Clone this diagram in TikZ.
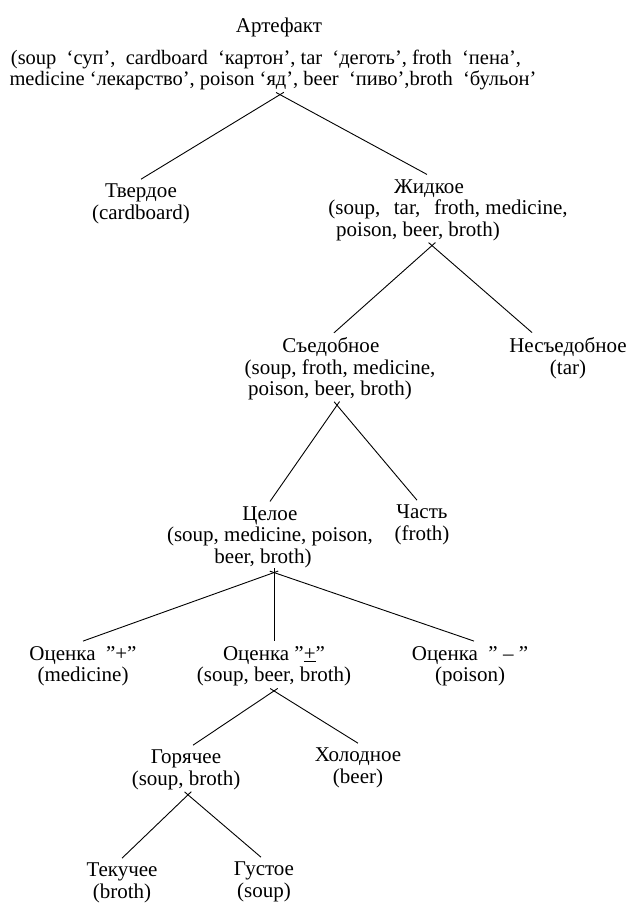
\documentclass[tikz,border=0pt]{standalone}
\usepackage{fontspec}
\setmainfont{Liberation Serif}
\usetikzlibrary{positioning}

\begin{document}
\begin{tikzpicture}
    [x=1pt, y=-1pt, line width=0.9pt,
     cat/.style={align=center, inner xsep=1pt, inner ysep=4.5pt, font=\fontsize{21}{21.5}\selectfont},
     down/.style={shorten <=-4.5pt}]
    \useasboundingbox (0,0) rectangle (629,903);
    \node[cat] (art) at (279,27) {Артефакт};
    \node[cat, font=\fontsize{20.5}{20.5}\selectfont] (artlist) at (266,70) {(soup\ \ ‘суп’,\ \ cardboard\ \ ‘картон’, tar\ \ ‘деготь’, froth\ \ ‘пена’,\\\hspace*{14pt}medicine ‘лекарство’, poison ‘яд’, beer\ \ ‘пиво’,broth\ \ ‘бульон’};
    \node[cat] (tv) at (141,204) {Твердое\\(cardboard)};
    \node[cat] (zh) at (448,210) {Жидкое\hspace*{38pt}\\(soup,\hspace{0.65em}tar,\hspace{0.65em}froth, medicine,\\poison, beer, broth)\hspace*{60pt}};
    \node[cat] (sed) at (340,369) {Съедобное\hspace*{18pt}\\(soup, froth, medicine,\\poison, beer, broth)\hspace*{20pt}};
    \node[cat] (nes) at (568,358) {Несъедобное\\(tar)};
    \node[cat] (cel) at (270,537) {Целое\\(soup, medicine, poison,\\beer, broth)\hspace*{14pt}};
    \node[cat] (part) at (422,525) {Часть\\(froth)};
    \node[cat] (plus) at (83,666) {Оценка\ \ ''+''\\(medicine)};
    \node[cat] (pm) at (274,666) {Оценка ''\underline{+}''\\(soup, beer, broth)};
    \node[cat] (minus) at (470,666) {Оценка\ \ '' -- ''\\(poison)};
    \node[cat] (hot) at (186,770) {Горячее\\(soup, broth)};
    \node[cat] (cold) at (358,768) {Холодное\\(beer)};
    \node[cat] (liq) at (122,883) {Текучее\\(broth)};
    \node[cat] (thick) at (264,882) {Густое\\(soup)};
    \draw[down] ([xshift=14pt]artlist.south) -- (tv.north);
    \draw[down] ([xshift=14pt]artlist.south) -- ([xshift=-21pt]zh.north);
    \draw[down] ([xshift=-16pt]zh.south) -- ([xshift=-6pt]sed.north);
    \draw[down] ([xshift=-16pt]zh.south) -- ([xshift=-36pt]nes.north);
    \draw[down] ([xshift=-3pt]sed.south) -- (cel.north);
    \draw[down] ([xshift=-3pt]sed.south) -- ([xshift=-5pt]part.north);
    \draw[down] ([xshift=4pt]cel.south) -- (plus.north);
    \draw[down] ([xshift=4pt]cel.south) -- (pm.north);
    \draw[down] ([xshift=4pt]cel.south) -- ([xshift=4pt]minus.north);
    \draw[down] (pm.south) -- ([xshift=7pt]hot.north);
    \draw[down] (pm.south) -- (cold.north);
    \draw[down] ([xshift=2pt]hot.south) -- (liq.north);
    \draw[down] ([xshift=2pt]hot.south) -- ([xshift=-3pt]thick.north);
\end{tikzpicture}
\end{document}
